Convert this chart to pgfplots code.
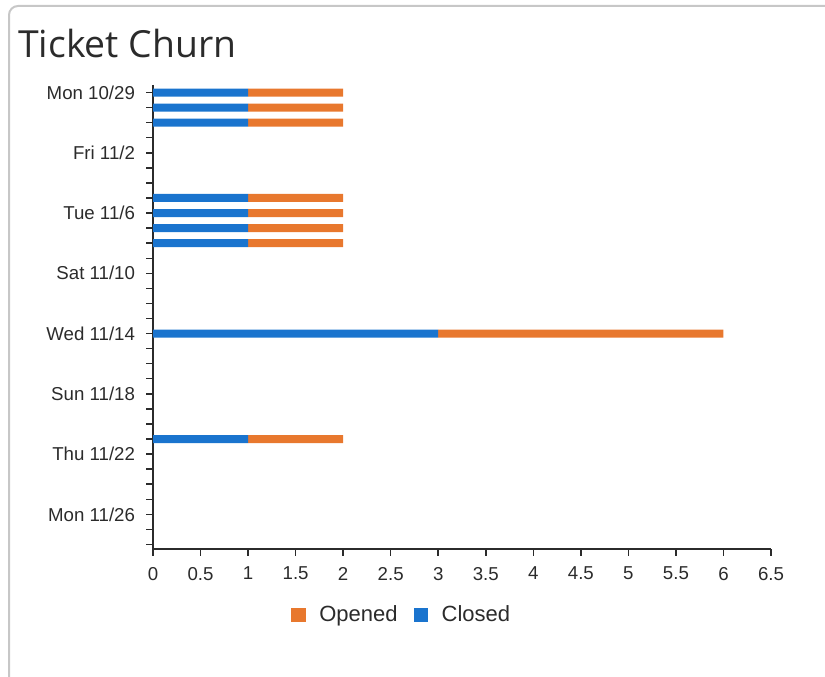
\documentclass[border=0pt]{standalone}
\usepackage{fontspec}
\setmainfont{Liberation Sans}
\newfontfamily\titlefont{Open Sans}
\usepackage{pgfplots}
\pgfplotsset{compat=1.18}
\definecolor{cblue}{HTML}{1A74CE}
\definecolor{corange}{HTML}{E8782E}
\definecolor{txt}{HTML}{2B2B2B}
\begin{document}
\begin{tikzpicture}
\useasboundingbox (0pt,0pt) rectangle (618.75pt,507.75pt);
% frame (top and left edges, rounded corner)
\draw[line width=1.5pt, black!22] (6.75pt,-5pt) -- (6.75pt,496.5pt) arc[start angle=180,end angle=90,radius=6.75pt] -- (625pt,503.25pt);
\node[anchor=base west, inner sep=0pt, text=txt, font=\titlefont\fontsize{28}{30}\selectfont] at (13.5pt,464.25pt) {Ticket Churn};
\begin{axis}[
  at={(114.75pt,96pt)}, anchor=south west,
  scale only axis, width=463.5pt, height=348pt,
  xmin=0, xmax=6.5, ymin=-0.5, ymax=30.3,
  y dir=reverse,
  xbar stacked, bar width=6pt,
  axis x line*=bottom, axis y line*=left,
  axis line style={line width=1pt, txt, -},
  tick align=outside,
  major tick length=5pt,
  tick style={line width=1.1pt, txt},
  xtick={0,0.5,...,6.5},
  xticklabels={0,0.5,1,1.5,2,2.5,3,3.5,4,4.5,5,5.5,6,6.5},
  ytick={0,...,30},
  yticklabels={Mon 10/29,,,,Fri 11/2,,,,Tue 11/6,,,,Sat 11/10,,,,Wed 11/14,,,,Sun 11/18,,,,Thu 11/22,,,,Mon 11/26,,},
  tick label style={font=\fontsize{14}{16}\selectfont, text=txt},
  xticklabel style={yshift=-5pt},
  yticklabel style={xshift=-5pt},
  legend style={at={(0.403,-0.142)}, anchor=center, draw=none, legend columns=2,
    font=\fontsize{16.5}{18}\selectfont, text=txt,
    /tikz/every odd column/.append style={column sep=8pt},
    /tikz/every even column/.append style={column sep=10pt}},
  legend image code/.code={\fill[#1] (0pt,-5.5pt) rectangle (11pt,5.5pt);},
  reverse legend,
]
\addplot+[draw=none, fill=cblue] coordinates {
  (1,0) (1,1) (1,2) (1,7) (1,8) (1,9) (1,10) (3,16) (1,23)};
\addlegendentry{Closed}
\addplot+[draw=none, fill=corange] coordinates {
  (1,0) (1,1) (1,2) (1,7) (1,8) (1,9) (1,10) (3,16) (1,23)};
\addlegendentry{Opened}
\end{axis}
\end{tikzpicture}
\end{document}
